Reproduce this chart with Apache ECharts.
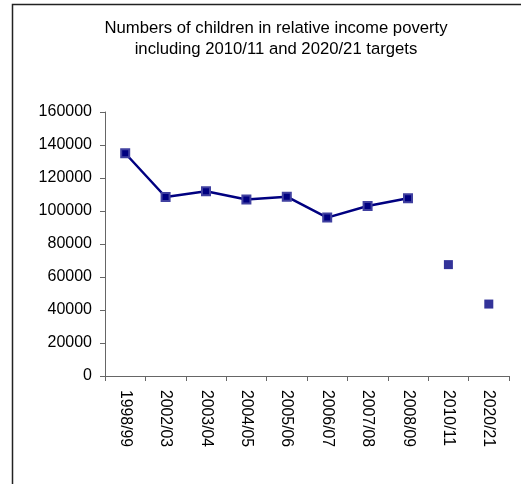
<!DOCTYPE html>
<html>
<head>
<meta charset="utf-8">
<script src="https://cdn.jsdelivr.net/npm/echarts@6/dist/echarts.min.js"></script>
<style>
html,body{margin:0;padding:0;background:#fff;}
#chart{width:521px;height:484px;}
</style>
</head>
<body>
<div id="chart"></div>
<script>
var categories = ['1998/99','2002/03','2003/04','2004/05','2005/06','2006/07','2007/08','2008/09','2010/11','2020/21'];
var actualValues = [135000, 108500, 112000, 107000, 108700, 96000, 103000, 107700, null, null];
var targetValues = [null, null, null, null, null, null, null, null, 67500, 43600];
var yTicks = {min: 0, max: 160000, interval: 20000};

var chart = echarts.init(document.getElementById('chart'), null, {renderer: 'canvas'});
var font = 'Arial, "Liberation Sans", sans-serif';
chart.setOption({
  animation: false,
  backgroundColor: '#fff',
  title: {
    text: 'Numbers of children in relative income poverty\nincluding 2010/11 and 2020/21 targets',
    left: 271, top: 13, textAlign: 'center',
    textStyle: {fontFamily: font, fontSize: 16.7, fontWeight: 'normal', color: '#000', lineHeight: 21}
  },
  graphic: [{
    type: 'polyline',
    shape: {points: [[12.5, 484], [12.5, 4.5], [521, 4.5]]},
    style: {stroke: '#222', lineWidth: 1.5, fill: null}
  }],
  grid: {left: 105, right: 12, top: 112, bottom: 108},
  xAxis: {
    type: 'category', data: categories, boundaryGap: true,
    axisLine: {lineStyle: {color: '#666', width: 1}},
    axisTick: {show: true, length: 5, lineStyle: {color: '#666'}},
    axisLabel: {rotate: -90, margin: 14, fontFamily: font, fontSize: 15.8, color: '#000', interval: 0}
  },
  yAxis: {
    type: 'value', min: yTicks.min, max: yTicks.max, interval: yTicks.interval,
    axisLine: {show: true, lineStyle: {color: '#666', width: 1}},
    axisTick: {show: true, length: 5, lineStyle: {color: '#666'}},
    splitLine: {show: false},
    axisLabel: {margin: 13, fontFamily: font, fontSize: 16, color: '#000',
      formatter: function (v) { return String(v); }}
  },
  series: [{
    type: 'line', data: actualValues, connectNulls: false,
    lineStyle: {color: '#000080', width: 2.5},
    symbol: 'rect', symbolSize: 8,
    itemStyle: {color: '#000080', borderColor: '#4040a0', borderWidth: 2}
  }, {
    type: 'scatter', data: targetValues,
    symbol: 'rect', symbolSize: 9,
    itemStyle: {color: '#333399', opacity: 1}
  }]
});
</script>
</body>
</html>
